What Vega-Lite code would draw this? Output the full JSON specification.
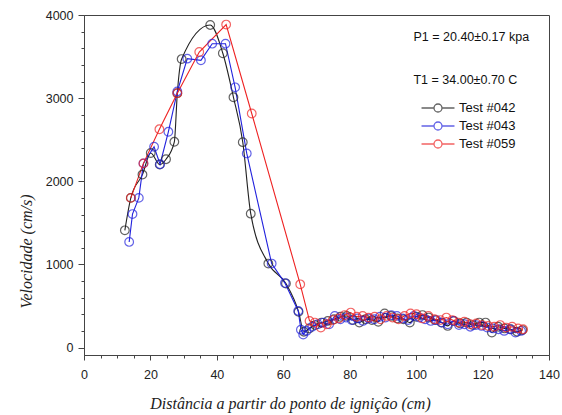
{
  "$schema": "https://vega.github.io/schema/vega-lite/v6.json",
  "width": 465,
  "height": 340,
  "autosize": {"type": "none"},
  "padding": {"left": 84, "top": 15, "right": 13, "bottom": 60},
  "background": "white",
  "config": {
    "view": {"stroke": "#444", "strokeWidth": 1},
    "axis": {
      "grid": false,
      "domainColor": "#444",
      "tickColor": "#444",
      "labelFont": "Liberation Sans",
      "labelFontSize": 12.5,
      "labelColor": "#222",
      "titleFont": "Liberation Serif",
      "titleFontStyle": "italic",
      "titleFontWeight": "normal",
      "titleFontSize": 16,
      "titleColor": "#222"
    }
  },
  "datasets": {
    "runs": [
      {"test": "Test #042", "d": 12.3, "v": 1410},
      {"test": "Test #042", "d": 14.1, "v": 1800},
      {"test": "Test #042", "d": 17.6, "v": 2080},
      {"test": "Test #042", "d": 20.1, "v": 2340},
      {"test": "Test #042", "d": 22.8, "v": 2200},
      {"test": "Test #042", "d": 24.7, "v": 2265},
      {"test": "Test #042", "d": 27.2, "v": 2475},
      {"test": "Test #042", "d": 28.1, "v": 3060},
      {"test": "Test #042", "d": 29.4, "v": 3470},
      {"test": "Test #042", "d": 38.0, "v": 3880},
      {"test": "Test #042", "d": 41.8, "v": 3540},
      {"test": "Test #042", "d": 45.0, "v": 3010},
      {"test": "Test #042", "d": 47.8, "v": 2470},
      {"test": "Test #042", "d": 50.2, "v": 1610},
      {"test": "Test #042", "d": 55.5, "v": 1010},
      {"test": "Test #042", "d": 60.8, "v": 770},
      {"test": "Test #042", "d": 64.6, "v": 430},
      {"test": "Test #042", "d": 66.2, "v": 190},
      {"test": "Test #042", "d": 67.8, "v": 230},
      {"test": "Test #042", "d": 69.6, "v": 270},
      {"test": "Test #042", "d": 71.5, "v": 300},
      {"test": "Test #042", "d": 73.4, "v": 320},
      {"test": "Test #042", "d": 75.3, "v": 340},
      {"test": "Test #042", "d": 77.2, "v": 370},
      {"test": "Test #042", "d": 79.1, "v": 380},
      {"test": "Test #042", "d": 81.0, "v": 330},
      {"test": "Test #042", "d": 82.9, "v": 300},
      {"test": "Test #042", "d": 84.8, "v": 340},
      {"test": "Test #042", "d": 86.7, "v": 330},
      {"test": "Test #042", "d": 88.6, "v": 310},
      {"test": "Test #042", "d": 90.5, "v": 410},
      {"test": "Test #042", "d": 92.4, "v": 380},
      {"test": "Test #042", "d": 94.3, "v": 350},
      {"test": "Test #042", "d": 96.2, "v": 340},
      {"test": "Test #042", "d": 98.1, "v": 300},
      {"test": "Test #042", "d": 100.0, "v": 370},
      {"test": "Test #042", "d": 101.9, "v": 390},
      {"test": "Test #042", "d": 103.8, "v": 360},
      {"test": "Test #042", "d": 105.7, "v": 330},
      {"test": "Test #042", "d": 107.6, "v": 300},
      {"test": "Test #042", "d": 109.5, "v": 260},
      {"test": "Test #042", "d": 111.4, "v": 320},
      {"test": "Test #042", "d": 113.3, "v": 290},
      {"test": "Test #042", "d": 115.2, "v": 300},
      {"test": "Test #042", "d": 117.1, "v": 270},
      {"test": "Test #042", "d": 119.0, "v": 300},
      {"test": "Test #042", "d": 120.9, "v": 300},
      {"test": "Test #042", "d": 122.8, "v": 180},
      {"test": "Test #042", "d": 124.7, "v": 250},
      {"test": "Test #042", "d": 126.6, "v": 230},
      {"test": "Test #042", "d": 128.5, "v": 220},
      {"test": "Test #042", "d": 130.4, "v": 190},
      {"test": "Test #042", "d": 132.0, "v": 210},
      {"test": "Test #043", "d": 13.6, "v": 1270},
      {"test": "Test #043", "d": 14.6, "v": 1605},
      {"test": "Test #043", "d": 16.5, "v": 1800},
      {"test": "Test #043", "d": 17.9, "v": 2215},
      {"test": "Test #043", "d": 21.1, "v": 2415},
      {"test": "Test #043", "d": 22.9, "v": 2205},
      {"test": "Test #043", "d": 25.4, "v": 2595},
      {"test": "Test #043", "d": 28.1, "v": 3080},
      {"test": "Test #043", "d": 31.1, "v": 3475},
      {"test": "Test #043", "d": 35.2, "v": 3455},
      {"test": "Test #043", "d": 38.6, "v": 3655},
      {"test": "Test #043", "d": 42.6, "v": 3655},
      {"test": "Test #043", "d": 45.5, "v": 3130},
      {"test": "Test #043", "d": 49.0, "v": 2335},
      {"test": "Test #043", "d": 56.5, "v": 1010},
      {"test": "Test #043", "d": 60.5, "v": 775},
      {"test": "Test #043", "d": 64.5, "v": 440},
      {"test": "Test #043", "d": 65.3, "v": 215},
      {"test": "Test #043", "d": 66.0, "v": 155},
      {"test": "Test #043", "d": 67.0, "v": 200},
      {"test": "Test #043", "d": 68.7, "v": 250},
      {"test": "Test #043", "d": 70.4, "v": 280},
      {"test": "Test #043", "d": 72.1, "v": 300},
      {"test": "Test #043", "d": 73.8, "v": 280},
      {"test": "Test #043", "d": 75.5, "v": 380},
      {"test": "Test #043", "d": 77.2, "v": 340},
      {"test": "Test #043", "d": 78.9, "v": 360},
      {"test": "Test #043", "d": 80.6, "v": 330},
      {"test": "Test #043", "d": 82.3, "v": 350},
      {"test": "Test #043", "d": 84.0, "v": 320},
      {"test": "Test #043", "d": 85.7, "v": 350},
      {"test": "Test #043", "d": 87.4, "v": 340},
      {"test": "Test #043", "d": 89.1, "v": 370},
      {"test": "Test #043", "d": 90.8, "v": 360},
      {"test": "Test #043", "d": 92.5, "v": 390},
      {"test": "Test #043", "d": 94.2, "v": 380},
      {"test": "Test #043", "d": 95.9, "v": 350},
      {"test": "Test #043", "d": 97.6, "v": 330},
      {"test": "Test #043", "d": 99.3, "v": 380},
      {"test": "Test #043", "d": 101.0, "v": 360},
      {"test": "Test #043", "d": 102.7, "v": 340},
      {"test": "Test #043", "d": 104.4, "v": 320},
      {"test": "Test #043", "d": 106.1, "v": 330},
      {"test": "Test #043", "d": 107.8, "v": 300},
      {"test": "Test #043", "d": 109.5, "v": 280},
      {"test": "Test #043", "d": 111.2, "v": 320},
      {"test": "Test #043", "d": 112.9, "v": 270},
      {"test": "Test #043", "d": 114.6, "v": 280},
      {"test": "Test #043", "d": 116.3, "v": 250},
      {"test": "Test #043", "d": 118.0, "v": 270},
      {"test": "Test #043", "d": 119.7, "v": 260},
      {"test": "Test #043", "d": 121.4, "v": 240},
      {"test": "Test #043", "d": 123.1, "v": 230},
      {"test": "Test #043", "d": 124.8, "v": 220},
      {"test": "Test #043", "d": 126.5, "v": 200},
      {"test": "Test #043", "d": 128.2, "v": 220},
      {"test": "Test #043", "d": 129.9, "v": 180},
      {"test": "Test #043", "d": 131.6, "v": 200},
      {"test": "Test #059", "d": 14.1, "v": 1800},
      {"test": "Test #059", "d": 17.9, "v": 2215},
      {"test": "Test #059", "d": 22.7, "v": 2625},
      {"test": "Test #059", "d": 28.1, "v": 3060},
      {"test": "Test #059", "d": 34.7, "v": 3555},
      {"test": "Test #059", "d": 42.8, "v": 3885},
      {"test": "Test #059", "d": 50.5, "v": 2815},
      {"test": "Test #059", "d": 65.1, "v": 760},
      {"test": "Test #059", "d": 67.9, "v": 320},
      {"test": "Test #059", "d": 69.5, "v": 300},
      {"test": "Test #059", "d": 71.3, "v": 240},
      {"test": "Test #059", "d": 73.1, "v": 280},
      {"test": "Test #059", "d": 74.9, "v": 330},
      {"test": "Test #059", "d": 76.7, "v": 350},
      {"test": "Test #059", "d": 78.5, "v": 390},
      {"test": "Test #059", "d": 80.3, "v": 420},
      {"test": "Test #059", "d": 82.1, "v": 370},
      {"test": "Test #059", "d": 83.9, "v": 380},
      {"test": "Test #059", "d": 85.7, "v": 360},
      {"test": "Test #059", "d": 87.5, "v": 370},
      {"test": "Test #059", "d": 89.3, "v": 340},
      {"test": "Test #059", "d": 91.1, "v": 380},
      {"test": "Test #059", "d": 92.9, "v": 360},
      {"test": "Test #059", "d": 94.7, "v": 340},
      {"test": "Test #059", "d": 96.5, "v": 380},
      {"test": "Test #059", "d": 98.3, "v": 410},
      {"test": "Test #059", "d": 100.1, "v": 400},
      {"test": "Test #059", "d": 101.9, "v": 350},
      {"test": "Test #059", "d": 103.7, "v": 380},
      {"test": "Test #059", "d": 105.5, "v": 340},
      {"test": "Test #059", "d": 107.3, "v": 330},
      {"test": "Test #059", "d": 109.1, "v": 360},
      {"test": "Test #059", "d": 110.9, "v": 330},
      {"test": "Test #059", "d": 112.7, "v": 300},
      {"test": "Test #059", "d": 114.5, "v": 310},
      {"test": "Test #059", "d": 116.3, "v": 280},
      {"test": "Test #059", "d": 118.1, "v": 290},
      {"test": "Test #059", "d": 119.9, "v": 270},
      {"test": "Test #059", "d": 121.7, "v": 260},
      {"test": "Test #059", "d": 123.5, "v": 250},
      {"test": "Test #059", "d": 125.3, "v": 270},
      {"test": "Test #059", "d": 127.1, "v": 240},
      {"test": "Test #059", "d": 128.9, "v": 250},
      {"test": "Test #059", "d": 130.7, "v": 230},
      {"test": "Test #059", "d": 132.2, "v": 220}
    ],
    "notes": [
      {"d": 99.2, "v": 3735, "label": "P1 = 20.40±0.17 kpa"},
      {"d": 99.2, "v": 3223, "label": "T1 = 34.00±0.70 C"}
    ]
  },
  "encoding": {
    "x": {
      "field": "d",
      "type": "quantitative",
      "scale": {"domain": [0, 140], "nice": false, "zero": false},
      "axis": {
        "title": "Distância a partir do ponto de ignição (cm)",
        "values": [0, 5, 10, 15, 20, 25, 30, 35, 40, 45, 50, 55, 60, 65, 70, 75, 80, 85, 90, 95, 100, 105, 110, 115, 120, 125, 130, 135, 140],
        "labelExpr": "datum.value % 20 === 0 ? datum.label : ''",
        "format": "d",
        "tickSize": {"condition": {"test": "datum.value % 20 === 0", "value": 5}, "value": 3},
        "labelPadding": 8,
        "labelOverlap": false,
        "labelBound": false,
        "labelFlush": false,
        "titleX": 206,
        "titleY": 48,
        "titleAlign": "center",
        "titleBaseline": "middle"
      }
    },
    "y": {
      "field": "v",
      "type": "quantitative",
      "scale": {"domain": [-90, 4000], "nice": false, "zero": false},
      "axis": {
        "title": "Velocidade (cm/s)",
        "values": [0, 200, 400, 600, 800, 1000, 1200, 1400, 1600, 1800, 2000, 2200, 2400, 2600, 2800, 3000, 3200, 3400, 3600, 3800, 4000],
        "labelExpr": "datum.value % 1000 === 0 ? datum.label : ''",
        "format": "d",
        "tickSize": {"condition": {"test": "datum.value % 1000 === 0", "value": 6}, "value": 3},
        "labelPadding": 5,
        "labelOverlap": false,
        "labelBound": false,
        "labelFlush": false,
        "titleX": -58,
        "titleY": 236,
        "titleAlign": "center",
        "titleBaseline": "middle",
        "titleAngle": 270
      }
    }
  },
  "layer": [
    {
      "data": {"name": "runs"},
      "transform": [{"filter": "datum.test === 'Test #042'"}],
      "mark": {"type": "line", "interpolate": "monotone", "strokeWidth": 1.1},
      "encoding": {
        "color": {
          "field": "test",
          "type": "nominal",
          "scale": {"domain": ["Test #042", "Test #043", "Test #059"], "range": ["#222222", "#2222dd", "#ee2222"]},
          "legend": {
            "orient": "none",
            "legendX": 345,
            "legendY": 84,
            "title": null,
            "symbolType": "M-2.06,0L-0.5,0M0.5,0L2.06,0M-0.5,0A0.5,0.5,0,1,1,0.5,0A0.5,0.5,0,1,1,-0.5,0",
            "symbolSize": 256,
            "symbolStrokeWidth": 1.3,
            "symbolFillColor": "transparent",
            "labelFont": "Liberation Sans",
            "labelFontSize": 13,
            "labelColor": "#111",
            "labelOffset": 12,
            "rowPadding": 2,
            "padding": 0
          }
        }
      }
    },
    {
      "data": {"name": "runs"},
      "transform": [{"filter": "datum.test !== 'Test #042'"}],
      "mark": {"type": "line", "strokeWidth": 1.1},
      "encoding": {"color": {"field": "test", "type": "nominal"}}
    },
    {
      "data": {"name": "runs"},
      "mark": {"type": "point", "shape": "circle", "filled": false, "size": 75, "strokeWidth": 1.2},
      "encoding": {"color": {"field": "test", "type": "nominal"}}
    },
    {
      "data": {"name": "notes"},
      "mark": {"type": "text", "align": "left", "baseline": "middle", "font": "Liberation Sans", "fontSize": 12.5, "color": "#111"},
      "encoding": {"text": {"field": "label", "type": "nominal"}}
    }
  ]
}
